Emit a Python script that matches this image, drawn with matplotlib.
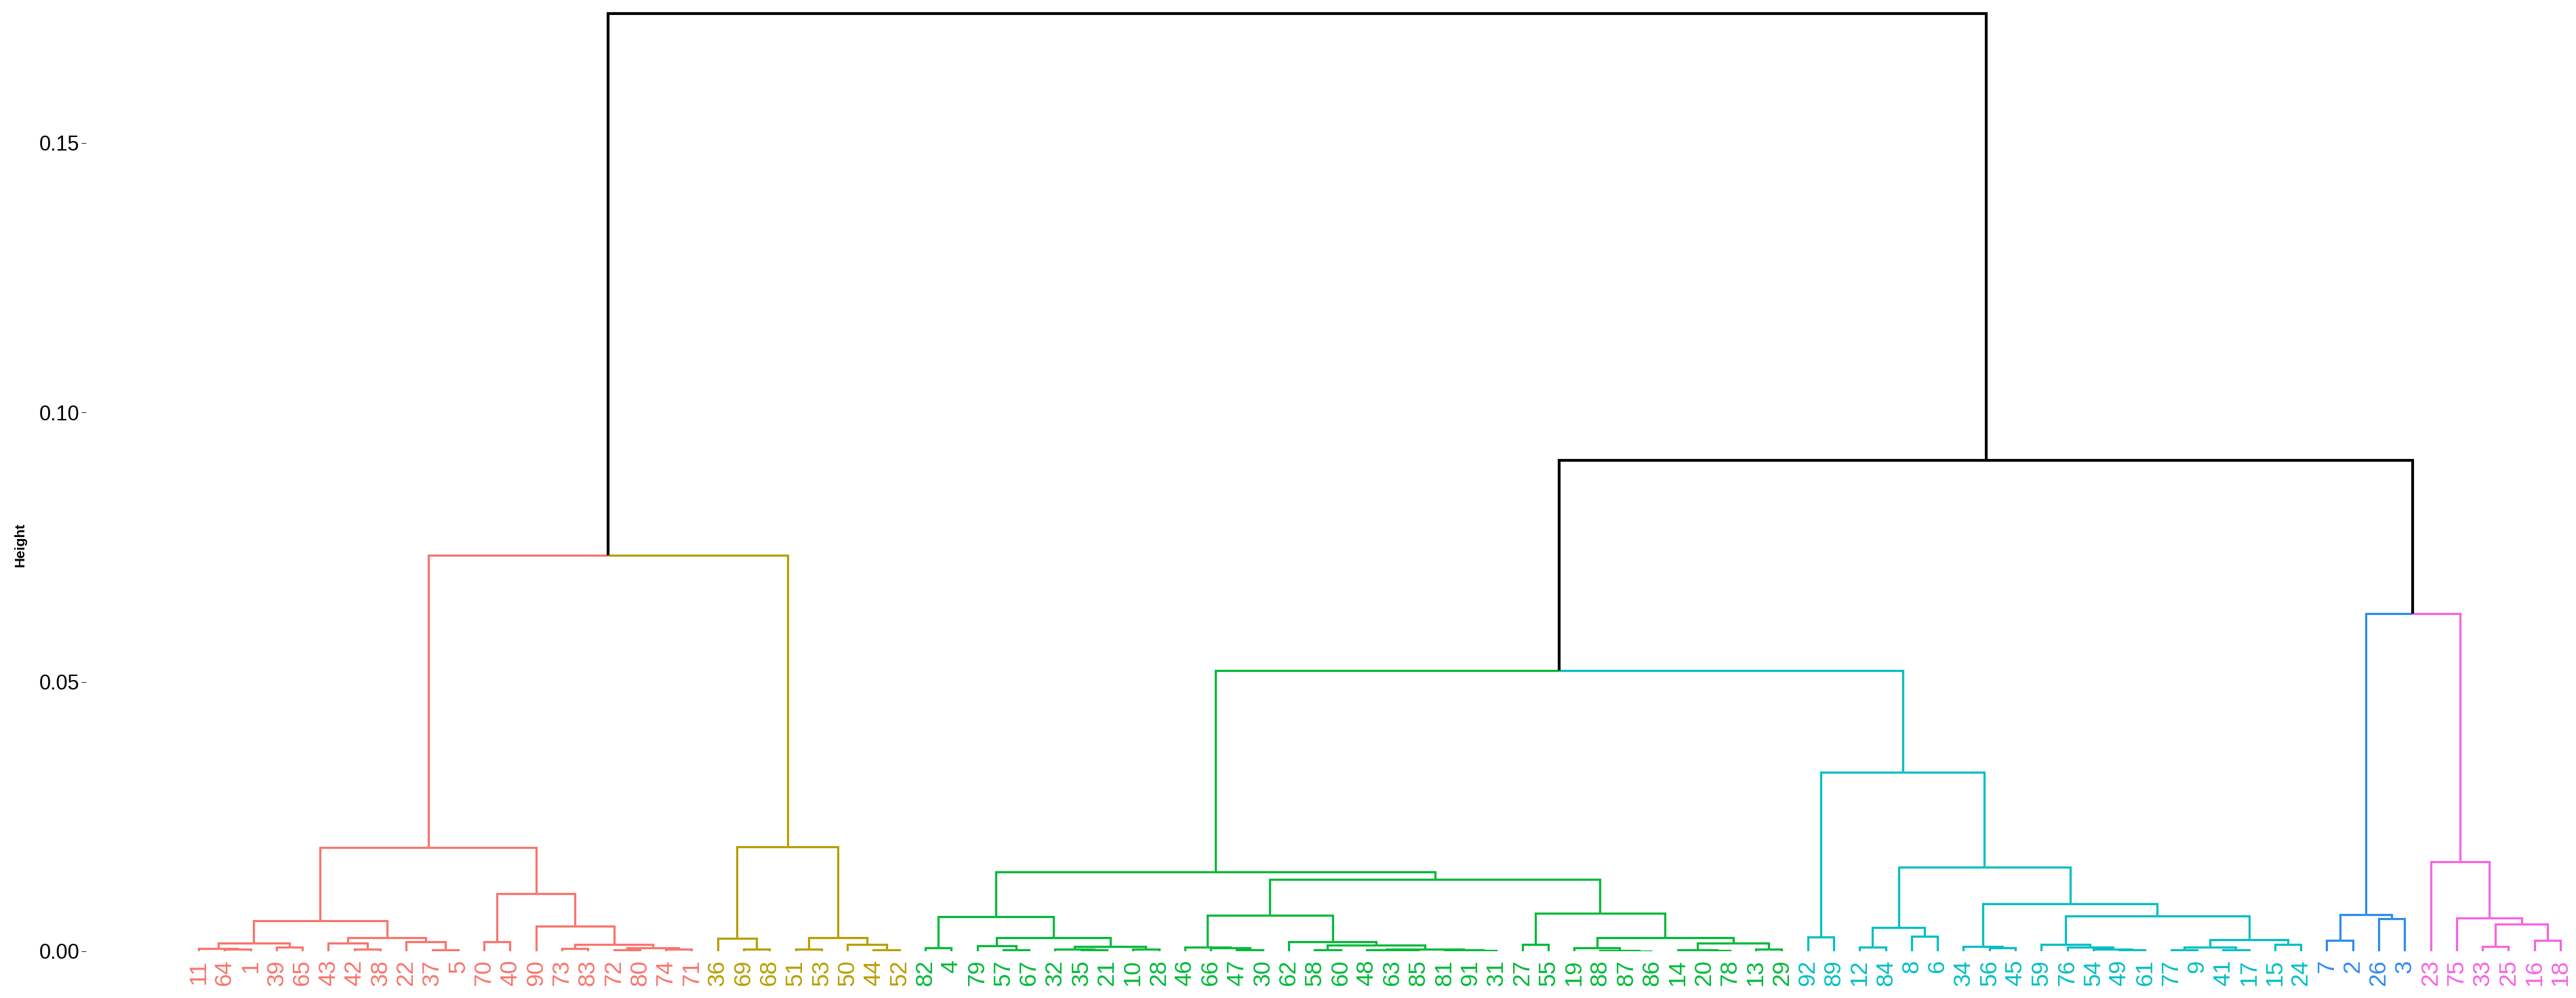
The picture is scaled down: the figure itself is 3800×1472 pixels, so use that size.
import matplotlib
matplotlib.use("Agg")
import matplotlib.pyplot as plt
import matplotlib.transforms as mtransforms

plt.rcParams["font.family"] = ["Liberation Sans", "DejaVu Sans"]

# Each merge: (node name, left child, right child, height). Ints are leaves.
red_merges = [
    ("r1", 64, 1, 0.0004), ("r2", 11, "r1", 0.0005), ("r3", 39, 65, 0.0008),
    ("r4", "r2", "r3", 0.00155), ("r5", 42, 38, 0.0004), ("r6", 43, "r5", 0.00155),
    ("r7", 37, 5, 0.0002), ("r8", 22, "r7", 0.0018), ("r9", "r6", "r8", 0.0025),
    ("r10", "r4", "r9", 0.0056), ("r11", 70, 40, 0.0017), ("r12", 73, 83, 0.0005),
    ("r13", 72, 80, 0.0002), ("r14", 74, 71, 0.0004), ("r15", "r13", "r14", 0.0006),
    ("r16", "r12", "r15", 0.0013), ("r17", 90, "r16", 0.0046), ("r18", "r11", "r17", 0.0107),
    ("R", "r10", "r18", 0.0192),
]
yellow_merges = [
    ("y1", 69, 68, 0.0004), ("y2", 36, "y1", 0.0024), ("y3", 51, 53, 0.0004),
    ("y4", 44, 52, 0.0003), ("y5", 50, "y4", 0.0013), ("y6", "y3", "y5", 0.0025),
    ("Y", "y2", "y6", 0.0194),
]
green_merges = [
    ("g1", 82, 4, 0.0006), ("g2", 57, 67, 0.0002), ("g3", 79, "g2", 0.0010),
    ("g4", 35, 21, 0.0002), ("g5", 32, "g4", 0.0004), ("g6", 10, 28, 0.0004),
    ("g7", "g5", "g6", 0.0009), ("g8", "g3", "g7", 0.0025), ("g9", "g1", "g8", 0.0064),
    ("g10", 47, 30, 0.0002), ("g11", 66, "g10", 0.0006), ("g12", 46, "g11", 0.0008),
    ("g13", 58, 60, 0.0003), ("g14", 63, 85, 0.0001), ("g15", 48, "g14", 0.0003),
    ("g16", 91, 31, 0.0001), ("g17", 81, "g16", 0.0002), ("g18", "g15", "g17", 0.0004),
    ("g19", "g13", "g18", 0.0011), ("g20", 62, "g19", 0.0017), ("g21", "g12", "g20", 0.0067),
    ("g22", 27, 55, 0.0012), ("g23", 87, 86, 0.00005), ("g24", 88, "g23", 0.0001),
    ("g25", 19, "g24", 0.0006), ("g26", 20, 78, 0.0001), ("g27", 14, "g26", 0.0002),
    ("g28", 13, 29, 0.0004), ("g29", "g27", "g28", 0.0015), ("g30", "g25", "g29", 0.0025),
    ("g31", "g22", "g30", 0.0071), ("g32", "g21", "g31", 0.0133), ("G", "g9", "g32", 0.0147),
]
cyan_merges = [
    ("c1", 92, 89, 0.0026), ("c2", 12, 84, 0.0008), ("c3", 8, 6, 0.0028),
    ("c4", "c2", "c3", 0.0044), ("c5", 56, 45, 0.0006), ("c6", 34, "c5", 0.0009),
    ("c7", 49, 61, 0.0002), ("c8", 54, "c7", 0.0004), ("c9", 76, "c8", 0.0008),
    ("c10", 59, "c9", 0.0013), ("c11", 77, 9, 0.0002), ("c12", 41, 17, 0.0002),
    ("c13", "c11", "c12", 0.0008), ("c14", 15, 24, 0.0013), ("c15", "c13", "c14", 0.0021),
    ("c16", "c10", "c15", 0.0066), ("c17", "c6", "c16", 0.0088), ("c18", "c4", "c17", 0.0156),
    ("C", "c1", "c18", 0.0332),
]
blue_merges = [
    ("b1", 7, 2, 0.0020), ("b2", 26, 3, 0.0061), ("B", "b1", "b2", 0.0068),
]
pink_merges = [
    ("p1", 33, 25, 0.0009), ("p2", 16, 18, 0.0020), ("p3", "p1", "p2", 0.0050),
    ("p4", 75, "p3", 0.0062), ("P", 23, "p4", 0.0166),
]
top_merges = [
    ("L", "R", "Y", 0.0735), ("GC", "G", "C", 0.0521), ("BP", "B", "P", 0.0626),
    ("RT", "GC", "BP", 0.0911), ("ROOT", "L", "RT", 0.174),
]

cluster_roots = ["R", "Y", "G", "C", "B", "P"]
cluster_colors = ["#F8766D", "#B79F00", "#00BA38", "#00BFC4", "#2E8BF0", "#F564E3"]

y_ticks = [0.0, 0.05, 0.10, 0.15]
y_tick_labels = ["0.00", "0.05", "0.10", "0.15"]

# ---------------------------------------------------------------------------
nodes = {}
for table in (red_merges, yellow_merges, green_merges, cyan_merges,
              blue_merges, pink_merges, top_merges):
    for name, a, b, h in table:
        nodes[name] = (a, b, h)

leaf_order = []


def _walk(n):
    if isinstance(n, int):
        leaf_order.append(n)
        return
    a, b, _ = nodes[n]
    _walk(a)
    _walk(b)


_walk("ROOT")
xpos = {leaf: i + 1 for i, leaf in enumerate(leaf_order)}
height = {leaf: 0.0 for leaf in leaf_order}


def _place(n):
    if isinstance(n, int):
        return xpos[n]
    a, b, h = nodes[n]
    xpos[n] = 0.5 * (_place(a) + _place(b))
    height[n] = h
    return xpos[n]


_place("ROOT")

# colour of every node inside one of the k clusters
color_of = {}


def _paint(n, col):
    color_of[n] = col
    if not isinstance(n, int):
        a, b, _ = nodes[n]
        _paint(a, col)
        _paint(b, col)


for root, col in zip(cluster_roots, cluster_colors):
    _paint(root, col)

fig = plt.figure(figsize=(38, 14.72), dpi=100)
W, H = 3800, 1472
ax = fig.add_axes([127 / W, 69 / H, (3795 - 127) / W, (1403 - 10) / H])

for n, (a, b, h) in nodes.items():
    for child in (a, b):
        col = color_of.get(child, "black")
        lw = 2.3 if child in color_of else 3.0
        ax.plot([xpos[n], xpos[child], xpos[child]], [h, h, height[child]],
                color=col, lw=lw, solid_capstyle="butt", solid_joinstyle="miter")

label_offset = mtransforms.offset_copy(ax.transData, fig=fig, x=0, y=-9, units="points")
for leaf in leaf_order:
    ax.text(xpos[leaf], 0, str(leaf), rotation=90, ha="center", va="top",
            fontsize=25, color=color_of[leaf], transform=label_offset, clip_on=False)

n = len(leaf_order)
ax.set_xlim(1 - (293 - 127) / 38.3, n + (3795 - 3777) / 38.3)
ax.set_ylim(0, (1403 - 10) / 7950)
ax.set_xticks([])
ax.set_yticks(y_ticks)
ax.set_yticklabels(y_tick_labels)
ax.tick_params(axis="y", length=5, width=0.8, color="#333333", labelsize=22, pad=2)
for s in ax.spines.values():
    s.set_visible(False)

fig.text(30 / W, 1 - 803 / H, "Height", rotation=90, ha="center", va="center",
         fontsize=15, fontweight="bold")

fig.savefig("out.png", dpi=100)
